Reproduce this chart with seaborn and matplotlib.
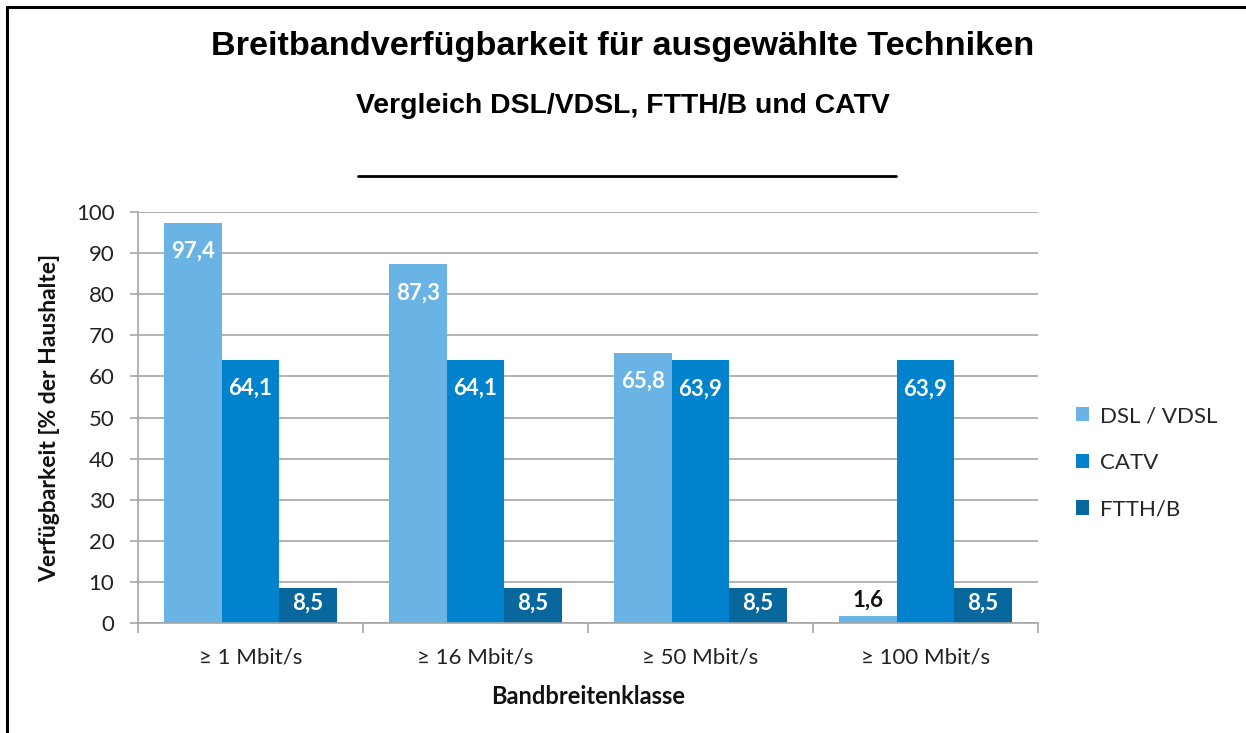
import matplotlib
matplotlib.use("Agg")
import matplotlib.pyplot as plt
from matplotlib.lines import Line2D
import seaborn as sns
import pandas as pd

categories = ["≥ 1 Mbit/s", "≥ 16 Mbit/s", "≥ 50 Mbit/s", "≥ 100 Mbit/s"]
series_names = ["DSL / VDSL", "CATV", "FTTH/B"]
dsl_vdsl = [97.4, 87.3, 65.8, 1.6]
catv = [64.1, 64.1, 63.9, 63.9]
ftth_b = [8.5, 8.5, 8.5, 8.5]
y_ticks = [0, 10, 20, 30, 40, 50, 60, 70, 80, 90, 100]
colors = ["#69B4E5", "#0082CC", "#08679C"]

rows = []
for name, vals in zip(series_names, [dsl_vdsl, catv, ftth_b]):
    for c, v in zip(categories, vals):
        rows.append({"Bandbreitenklasse": c, "Technik": name, "Wert": v})
df = pd.DataFrame(rows)

sns.set_theme(style="white")
body_font = ["Lato", "DejaVu Sans"]
plt.rcParams["font.family"] = body_font

fig = plt.figure(figsize=(12.46, 7.33), dpi=100)
ax = fig.add_axes([138 / 1246, 110 / 733, 900 / 1246, 411 / 733])

sns.barplot(data=df, x="Bandbreitenklasse", y="Wert", hue="Technik",
            order=categories, hue_order=series_names, palette=colors,
            width=0.765, linewidth=0, saturation=1, ax=ax, errorbar=None)

ax.set_ylim(0, 100)
ax.set_xlim(-0.5, len(categories) - 0.5)
ax.set_yticks(y_ticks)
ax.yaxis.grid(True, color="#A6A6A6", linewidth=1.2)
ax.set_axisbelow(True)
for s in ["top", "right"]:
    ax.spines[s].set_visible(False)
for s in ["left", "bottom"]:
    ax.spines[s].set_color("#A6A6A6")
    ax.spines[s].set_linewidth(1.2)

ax.tick_params(axis="y", which="major", left=True, length=6, width=1.2,
               color="#A6A6A6", labelsize=16, labelcolor="#222222", pad=11)
# category separators as minor ticks on x
ax.set_xticks([i - 0.5 for i in range(len(categories) + 1)], minor=True)
ax.tick_params(axis="x", which="minor", bottom=True, length=7, width=1.2, color="#A6A6A6")
ax.tick_params(axis="x", which="major", bottom=False, labelsize=16, labelcolor="#222222", pad=12)

ax.set_xlabel("Bandbreitenklasse", fontsize=17, fontweight="bold", labelpad=12, color="#111111")
ax.set_ylabel("Verfügbarkeit [% der Haushalte]", fontsize=16.5, fontweight="bold", labelpad=11, color="#111111")

# value labels
for cont in ax.containers:
    for p in cont.patches:
        h = p.get_height()
        xc = p.get_x() + p.get_width() / 2
        txt = f"{h:.1f}".replace(".", ",")
        if h > 20:
            ax.annotate(txt, (xc, h), xytext=(0, -13), textcoords="offset points",
                        ha="center", va="top", color="white", fontsize=16, fontweight="bold")
        elif h > 5:
            ax.annotate(txt, (xc, h / 2), xytext=(0, 2), textcoords="offset points",
                        ha="center", va="center", color="white", fontsize=16, fontweight="bold")
        else:
            ax.annotate(txt, (xc, h), xytext=(0, 4), textcoords="offset points",
                        ha="center", va="bottom", color="#111111", fontsize=16, fontweight="bold")

# legend
handles, labels = ax.get_legend_handles_labels()
ax.legend(handles, labels, loc="center left", bbox_to_anchor=(1.02, 0.39), frameon=False,
          fontsize=16, handlelength=0.6, handleheight=0.6, labelspacing=1.2, handletextpad=0.5)

# titles
title_font = ["Liberation Sans", "DejaVu Sans"]
fig.text(0.5, 1 - 47 / 733, "Breitbandverfügbarkeit für ausgewählte Techniken", ha="center", va="center",
         fontsize=24.7, fontweight="bold", family=title_font, color="black")
fig.text(0.5, 1 - 106 / 733, "Vergleich DSL/VDSL, FTTH/B und CATV", ha="center", va="center",
         fontsize=20.4, fontweight="bold", family=title_font, color="black")
fig.add_artist(Line2D([358 / 1246, 896 / 1246], [1 - 176 / 733, 1 - 176 / 733],
                      color="black", linewidth=2, transform=fig.transFigure))

# frame lines (top and left)
fig.add_artist(Line2D([7 / 1246, 1.0], [1 - 7 / 733, 1 - 7 / 733], color="black", linewidth=2.2,
                      transform=fig.transFigure))
fig.add_artist(Line2D([7 / 1246, 7 / 1246], [0, 1 - 7 / 733], color="black", linewidth=2.2,
                      transform=fig.transFigure))

fig.savefig("out.png", dpi=100)
